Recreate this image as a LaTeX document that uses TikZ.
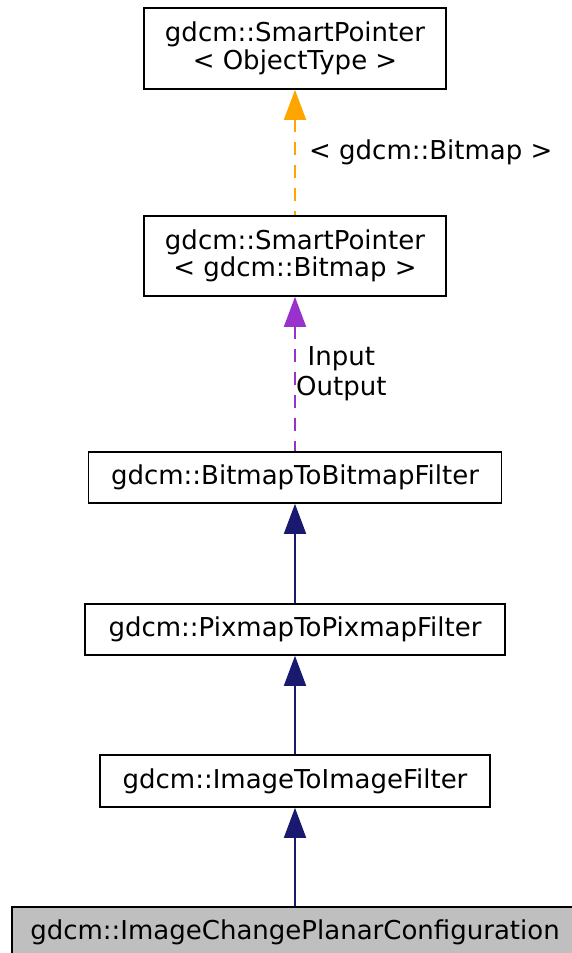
\documentclass[tikz,border=0pt]{standalone}
\usepackage{fontspec}
\setmainfont{DejaVu Sans}
\usepackage{tikz}
\usetikzlibrary{arrows.meta, positioning}

\begin{document}
\begin{tikzpicture}[
            x=1pt, y=1pt,
            classbox/.style={
                rectangle, draw=black, fill=white, line width=1.6pt,
                align=center, inner sep=0pt,
                font=\fontsize{26}{27.5}\selectfont
            },
            inherit/.style={
                draw=navyblue, line width=1.7pt,
                {Triangle[width=22pt,length=30pt]}-
            },
            tmpl/.style={
                line width=1.7pt, dash pattern=on 13pt off 10pt,
                {Triangle[width=22pt,length=30pt]}-
            },
            lbl/.style={font=\fontsize{26}{30}\selectfont, align=center}
        ]
            \definecolor{navyblue}{RGB}{25,25,112}
            \definecolor{usage}{RGB}{153,50,204}
            \definecolor{tmplcol}{RGB}{255,165,0}
            \useasboundingbox (0,0) rectangle (572,-953);

            \node[classbox, minimum width=302pt, minimum height=81pt] (objtype) at (295,-48.5) {gdcm::SmartPointer\\< ObjectType >};
            \node[classbox, minimum width=302pt, minimum height=80pt] (bitmapptr) at (295,-256) {gdcm::SmartPointer\\< gdcm::Bitmap >};
            \node[classbox, minimum width=413pt, minimum height=51pt] (b2b) at (295,-477.5) {gdcm::BitmapToBitmapFilter};
            \node[classbox, minimum width=420pt, minimum height=51pt] (p2p) at (295,-629.5) {gdcm::PixmapToPixmapFilter};
            \node[classbox, minimum width=390pt, minimum height=52pt] (i2i) at (295,-781) {gdcm::ImageToImageFilter};
            \node[classbox, fill=black!25, minimum width=566pt, minimum height=52pt, anchor=north] (ipc) at (295,-906) {gdcm::ImageChangePlanarConfiguration};

            % template instance and usage links
            \draw[tmpl, draw=tmplcol] (objtype) -- (bitmapptr)
                node[lbl, midway, right=10pt] {< gdcm::Bitmap >};
            \draw[tmpl, draw=usage] (bitmapptr) -- (b2b)
                node[lbl, midway, right=0pt, xshift=-3pt] {Input\\Output};

            % inheritance
            \draw[inherit] (b2b) -- (p2p);
            \draw[inherit] (p2p) -- (i2i);
            \draw[inherit] (i2i) -- (ipc);
        \end{tikzpicture}
\end{document}
